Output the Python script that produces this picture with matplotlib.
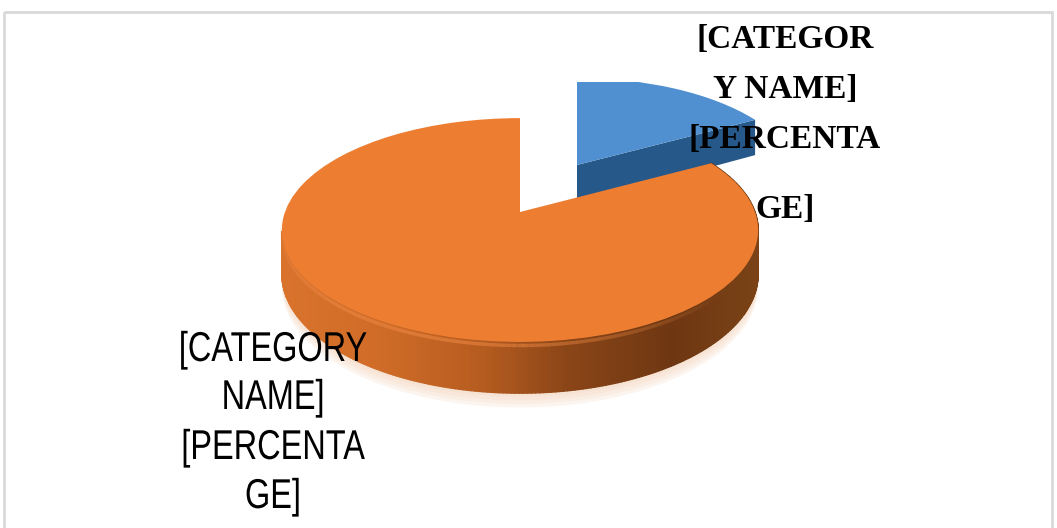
import numpy as np
from matplotlib import pyplot as plt
from matplotlib.collections import LineCollection, PolyCollection
from matplotlib.colors import LinearSegmentedColormap
from matplotlib.patches import Rectangle
from matplotlib.path import Path
from matplotlib.patheffects import AbstractPathEffect
from matplotlib.transforms import Affine2D, Transform

categories = ['1st Qtr', '2nd Qtr']
shares = [17, 83]
blue_label_lines = ['[CATEGOR', 'Y NAME]', '[PERCENTA', 'GE]']
orange_label_lines = ['[CATEGORY', 'NAME]', '[PERCENTA', 'GE]']


class TiltedPie(Transform):
    # maps the unit circle of ax.pie to a tilted disc in pixel coordinates
    input_dims = 2
    output_dims = 2

    def __init__(self, cx, cy, rx=235, ry=109, k=0.161, drop=0):
        super().__init__()
        self.cx, self.cy, self.rx, self.ry, self.k, self.drop = cx, cy, rx, ry, k, drop

    def transform_non_affine(self, values):
        values = np.asarray(values, dtype=float)
        w = 1 + self.k * values[:, 1]
        x = self.cx + self.rx * values[:, 0] / w
        y = self.cy - self.ry * values[:, 1] / w + self.drop / w
        return np.column_stack([x, y])


class Squeeze(AbstractPathEffect):
    # the lower label is a narrow face, no condensed font is installed
    def __init__(self, xc, sx):
        super().__init__()
        self.xc, self.sx = xc, sx

    def draw_path(self, renderer, gc, tpath, affine, rgbFace=None):
        squeeze = Affine2D().translate(-self.xc, 0).scale(self.sx, 1).translate(self.xc, 0)
        renderer.draw_path(gc, tpath, affine + squeeze, rgbFace)


def rim_points(tr, t1, t2, n=240):
    t = np.radians(np.linspace(t1, t2, n))
    return tr.transform_non_affine(np.column_stack([np.cos(t), np.sin(t)]))


def draw_side(ax, top, bottom, cmap, zorder):
    quads = [[top[i], top[i + 1], bottom[i + 1], bottom[i]] for i in range(len(top) - 1)]
    pos = (top[:-1, 0] - 281) / (757 - 281)
    ax.add_collection(PolyCollection(quads, facecolors=cmap(pos), edgecolors=cmap(pos),
                                     linewidths=1.0, zorder=zorder))


fig = plt.figure(figsize=(10.57, 5.28), dpi=100)
ax = fig.add_axes([0, 0, 1, 1])

wedges, _ = ax.pie(shares, startangle=90, counterclock=False,
                   colors=['#5090d0', '#ed7d31'], labels=None)
ax.set_aspect('auto')
ax.set_xlim(0, 1057)
ax.set_ylim(528, 0)
ax.axis('off')

blue, orange = wedges
blue_pie = TiltedPie(577, 165, rx=219, ry=101)
orange_pie = TiltedPie(520, 212)

# grey frame of the chart area
ax.add_patch(Rectangle((4, 12), 1048, 530, fill=False, edgecolor='#d9d9d9', linewidth=2, zorder=1))

# soft shadow under the disc
for grow in [12, 9, 6, 3]:
    low = rim_points(TiltedPie(520, 212, drop=43 + grow), 175, 365)
    ax.fill(low[:, 0], low[:, 1], color='#f6d9c0', alpha=0.25, linewidth=0, zorder=1.5)

# blue slice: dark side, then the face, cut flat at the top like the reference
edge = np.radians(blue.theta1)
edge_points = np.array([[0, 0], [np.cos(edge), np.sin(edge)]])
blue_edge = blue_pie.transform_non_affine(edge_points)
blue_edge_low = TiltedPie(577, 165, rx=219, ry=101, drop=38).transform_non_affine(edge_points)
ax.fill([blue_edge[0, 0], blue_edge[1, 0], blue_edge_low[1, 0], blue_edge_low[0, 0]],
        [blue_edge[0, 1], blue_edge[1, 1], blue_edge_low[1, 1], blue_edge_low[0, 1]],
        color='#27588a', linewidth=0, zorder=2)
blue.set_transform(blue_pie + ax.transData)
blue.set_clip_on(True)  # pie turns clipping off
blue.set_clip_path(Path([[0, 82], [1057, 82], [1057, 528], [0, 528], [0, 82]]), ax.transData)
blue.set_zorder(3)

# orange slice: shaded rim on the front part only, then the face on top
orange_dark = LinearSegmentedColormap.from_list(
    'o', [(0, '#d9732c'), (0.2, '#d06c28'), (0.42, '#b65c20'), (0.6, '#8a4517'),
          (0.82, '#6e3712'), (1, '#7a4216')])
orange_top = rim_points(orange_pie, -170, orange.theta2)
orange_low = rim_points(TiltedPie(520, 212, drop=43), -170, orange.theta2)
draw_side(ax, orange_top, orange_low, orange_dark, 4)
orange.set_transform(orange_pie + ax.transData)
orange.set_zorder(5)

# lighter bevel along the rim, fading out at both ends
bevel = rim_points(TiltedPie(520, 212, drop=3), 180, 320, n=120)
fade = 0.55 * np.sin(np.linspace(0, np.pi, len(bevel) - 1))
bevel_colors = [(0.94, 0.54, 0.27, a) for a in fade]
ax.add_collection(LineCollection(np.stack([bevel[:-1], bevel[1:]], axis=1),
                                 colors=bevel_colors, linewidths=2.5, zorder=4.5))

# labels sit over the pie, line by line because the spacing is uneven
for line, y in zip(blue_label_lines, [40, 89, 140, 210]):
    ax.text(785, y, line, family=['Liberation Serif', 'DejaVu Serif'], fontweight='bold',
            fontsize=24, ha='center', va='center', color='black', zorder=6)
for line, y in zip(orange_label_lines, [350, 398, 448, 497]):
    ax.text(273, y, line, family=['Liberation Sans', 'DejaVu Sans'], fontsize=30,
            ha='center', va='center', color='black', zorder=6,
            path_effects=[Squeeze(273, 0.78)])

fig.savefig('out.png', dpi=100)
